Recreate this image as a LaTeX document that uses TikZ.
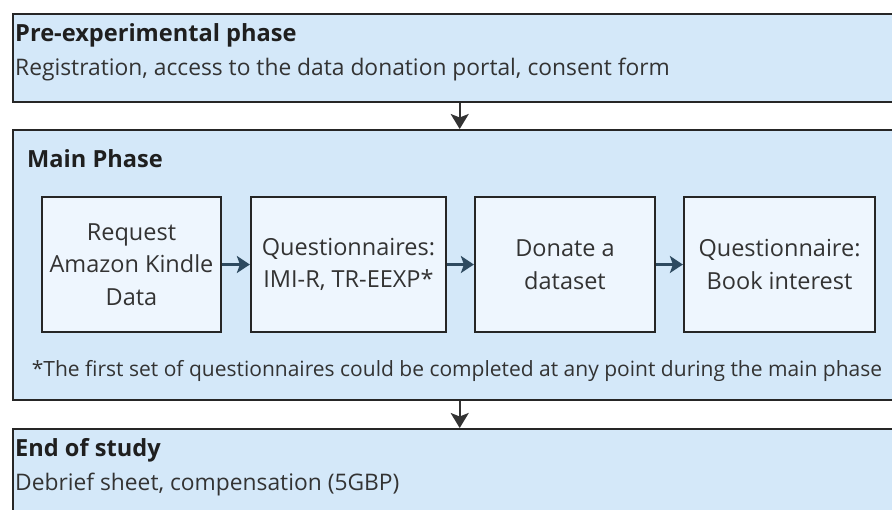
\documentclass[tikz,border=0pt]{standalone}
\usepackage{fontspec}
\setmainfont{Open Sans}
\usetikzlibrary{arrows.meta}
\definecolor{phasefill}{HTML}{D4E8F9}
\definecolor{stepfill}{HTML}{EEF6FE}
\definecolor{edgedark}{HTML}{262626}
\definecolor{flowarrow}{HTML}{2E4A60}
\definecolor{bodytext}{HTML}{333333}
\tikzset{
  phasebox/.style={draw=edgedark, fill=phasefill, line width=2.4pt, rectangle,
    anchor=north west, inner sep=0pt, minimum width=893pt},
  stepbox/.style={draw=edgedark, fill=stepfill, line width=2.2pt, rectangle,
    inner sep=0pt, minimum height=135pt, align=center, text=bodytext,
    font=\fontsize{23.5}{32.5}\selectfont},
  phasetitle/.style={anchor=base west, inner sep=0pt, text=black!88,
    font=\fontsize{23.6}{28}\selectfont\bfseries},
  phasetext/.style={anchor=base west, inner sep=0pt, text=bodytext,
    font=\fontsize{22.8}{27}\selectfont},
  phaseflow/.style={draw=black!80, line width=2.2pt,
    -{Stealth[length=15pt,width=18pt,inset=3.5pt]}},
  stepflow/.style={draw=flowarrow, line width=2.8pt,
    -{Stealth[length=13pt,width=17pt,inset=3pt]}},
}
\begin{document}
\begin{tikzpicture}[x=1pt,y=-1pt]
  \useasboundingbox (0,0) rectangle (892,509);
  \clip (0,0) rectangle (892,509);
  \fill[white] (0,0) rectangle (892,509);

  % three phases
  \node[phasebox, minimum height=88pt] (pre) at (12,13) {};
  \node[phasebox, minimum height=270pt] (main) at (12,129) {};
  \node[phasebox, minimum height=110pt] (end) at (12,428) {};

  \node[phasetitle] (pretitle) at (15,41) {Pre-experimental phase};
  \node[phasetext] (pretext) at (15,75) {Registration, access to the data donation portal, consent form};

  \node[phasetitle] (maintitle) at (27,167) {Main Phase};

  \node[phasetitle] (endtitle) at (15,456) {End of study};
  \node[phasetext] (endtext) at (15,490) {Debrief sheet, compensation (5GBP)};

  % steps of the main phase
  \node[stepbox, minimum width=179pt] (s1) at (131.5,264.5) {Request\\Amazon Kindle\\Data};
  \node[stepbox, minimum width=195pt] (s2) at (348.5,264.5) {Questionnaires:\\IMI-R, TR-EEXP*};
  \node[stepbox, minimum width=180pt] (s3) at (565,264.5) {Donate a\\dataset};
  \node[stepbox, minimum width=191pt] (s4) at (779.5,264.5) {Questionnaire:\\Book interest};

  \node[phasetext, anchor=base, font=\fontsize{21}{25}\selectfont] (note) at (457,376)
    {*The first set of questionnaires could be completed at any point during the main phase};

  % flow
  \draw[stepflow] (s1) -- (s2);
  \draw[stepflow] (s2) -- (s3);
  \draw[stepflow] (s3) -- (s4);
  \draw[phaseflow] (pre.south) -- (main.north);
  \draw[phaseflow] (main.south) -- (end.north);
\end{tikzpicture}
\end{document}
